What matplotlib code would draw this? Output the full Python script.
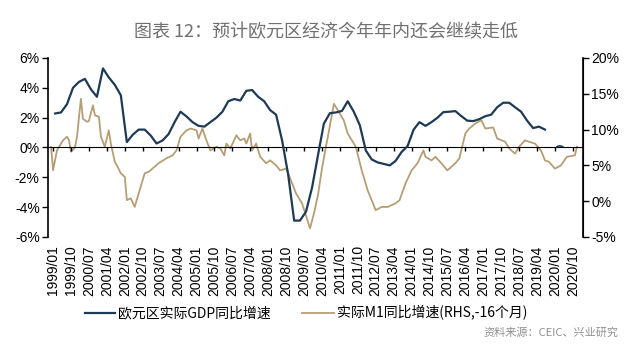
import pandas as pd
import matplotlib
matplotlib.use('Agg')
import matplotlib.pyplot as plt
import matplotlib.dates as mdates

plt.rcParams['font.family'] = ['Liberation Sans', 'Noto Sans CJK SC', 'DejaVu Sans']
plt.rcParams['axes.unicode_minus'] = True

# 欧元区实际GDP同比增速 (季度, %), 1999Q1 起
gdp = [2.28, 2.35, 2.9, 4.0, 4.4, 4.6, 3.9, 3.4, 5.3, 4.7, 4.2, 3.5,
       0.36, 0.85, 1.2, 1.2, 0.8, 0.27, 0.47, 0.9, 1.7, 2.4, 2.08, 1.7,
       1.45, 1.4, 1.7, 2.0, 2.4, 3.1, 3.25, 3.15, 3.8, 3.85, 3.4, 3.1,
       2.5, 2.2, 0.47, -1.8, -4.9, -4.9, -4.3, -2.7, -0.5, 1.6, 2.3, 2.35,
       2.45, 3.1, 2.4, 1.5, -0.2, -0.8, -1.0, -1.1, -1.2, -0.9, -0.3, 0.1,
       1.2, 1.7, 1.45, 1.7, 2.0, 2.37, 2.4, 2.44, 2.1, 1.8, 1.77, 1.9,
       2.1, 2.2, 2.7, 3.0, 3.0, 2.7, 2.4, 1.8, 1.3, 1.4, 1.2]
gdp_dates = pd.date_range('1999-02-01', periods=len(gdp), freq='3MS')

# 预测小段
gdp_f_dates = pd.to_datetime(['2020-02-01', '2020-03-15', '2020-05-01'])
gdp_f = [0.05, 0.12, 0.05]

# 实际M1同比增速 (RHS, -16个月, %)
m1_dates = ['1998-12', '1999-01', '1999-03', '1999-06', '1999-08', '1999-09', '1999-10',
            '1999-12', '2000-01', '2000-03', '2000-04', '2000-06', '2000-07', '2000-09',
            '2000-10', '2000-12', '2001-01', '2001-03', '2001-04', '2001-05', '2001-06',
            '2001-08', '2001-09', '2001-11', '2002-01', '2002-02', '2002-04', '2002-06',
            '2002-08', '2002-11', '2003-01', '2003-04', '2003-06', '2003-10', '2004-01',
            '2004-03', '2004-05', '2004-08', '2004-10', '2005-01', '2005-02', '2005-04',
            '2005-06', '2005-08', '2005-11', '2006-01', '2006-03', '2006-04', '2006-06',
            '2006-09', '2006-11', '2007-01', '2007-02', '2007-04', '2007-05', '2007-07',
            '2007-09', '2007-12', '2008-02', '2008-05', '2008-07', '2008-10', '2008-11',
            '2009-01', '2009-03', '2009-06', '2009-08', '2009-10', '2009-12', '2010-02',
            '2010-04', '2010-06', '2010-07', '2010-10', '2010-12', '2011-03', '2011-05',
            '2011-09', '2011-12', '2012-03', '2012-07', '2012-10', '2013-01', '2013-05',
            '2013-07', '2013-10', '2014-01', '2014-04', '2014-07', '2014-08', '2014-11',
            '2015-01', '2015-04', '2015-07', '2015-11', '2016-01', '2016-04', '2016-06',
            '2016-09', '2016-12', '2017-02', '2017-06', '2017-08', '2017-12', '2018-02',
            '2018-05', '2018-07', '2018-10', '2018-12', '2019-03', '2019-06', '2019-08',
            '2019-10', '2020-01', '2020-04', '2020-07', '2020-11', '2020-12']
m1 = [7.58, 4.33, 7.1, 8.5, 9.0, 8.5, 6.9,
      7.5, 9.0, 14.3, 11.5, 11.1, 11.2, 13.4,
      12.0, 11.8, 9.0, 7.6, 8.75, 9.9, 8.05,
      5.5, 5.0, 3.9, 3.4, 0.15, 0.4, -0.8,
      1.1, 3.9, 4.1, 4.8, 5.3, 6.0, 6.4,
      7.1, 9.0, 9.9, 10.15, 9.9, 8.75, 10.15,
      8.5, 7.1, 7.6, 7.35, 6.4, 8.05, 7.35,
      9.2, 8.5, 8.75, 8.05, 9.45, 7.1, 8.05,
      6.2, 5.3, 5.7, 5.0, 4.3, 4.55, 3.9,
      2.5, 1.1, -0.3, -2.0, -3.8, -1.7, 0.9,
      4.5, 7.6, 9.0, 13.6, 12.7, 11.3, 9.45,
      7.6, 4.3, 1.5, -1.25, -0.8, -0.8, -0.3,
      0.15, 2.5, 4.3, 5.3, 7.1, 6.2, 5.7,
      6.2, 5.3, 4.3, 5.3, 6.0, 9.45, 10.15,
      10.85, 11.3, 10.15, 10.3, 8.75, 8.3, 7.35,
      6.65, 7.6, 8.5, 8.3, 8.05, 7.1, 5.7,
      5.5, 4.55, 5.0, 6.2, 6.4, 7.6]
m1_dates = pd.to_datetime(m1_dates)

navy = '#1e3a55'
tan = '#b59e76'

fig = plt.figure(figsize=(6.4, 3.58), dpi=100)
ax = fig.add_axes([0.075, 0.338, 0.836, 0.500])
ax2 = ax.twinx()

ax.plot(gdp_dates, gdp, color=navy, lw=1.6, zorder=3)
ax.plot(gdp_f_dates, gdp_f, color=navy, lw=1.2, zorder=3)
ax2.plot(m1_dates, m1, color=tan, lw=1.3)
ax.set_zorder(ax2.get_zorder() + 1)
ax.patch.set_visible(False)

ax.set_ylim(-6, 6)
ax2.set_ylim(-5, 20)
ax.set_yticks(range(-6, 7, 2))
ax2.set_yticks(range(-5, 21, 5))
ax.set_yticklabels([f'{v}%' for v in range(-6, 7, 2)])
ax2.set_yticklabels([f'{v}%' for v in range(-5, 21, 5)])

xticks = pd.date_range('1999-01-01', '2020-10-01', freq='9MS')
ax.set_xlim(pd.Timestamp('1998-10-15'), pd.Timestamp('2021-03-05'))
ax.set_xticks(xticks)
ax.set_xticklabels([d.strftime('%Y/%m') for d in xticks], rotation=90)
ax.tick_params(axis='x', length=0, pad=6, labelsize=10)
ax.tick_params(axis='y', direction='out', length=4, width=1, labelsize=10, pad=2)
ax2.tick_params(axis='y', direction='out', length=4, width=1, labelsize=10, pad=2)

for a in (ax, ax2):
    a.spines['top'].set_visible(False)
    a.spines['bottom'].set_visible(False)
ax2.spines['left'].set_visible(False)
ax.spines['left'].set_linewidth(1.2)
ax2.spines['right'].set_linewidth(1.2)

# 零轴
sec = ax.secondary_xaxis(0.5)
sec.set_xticks(xticks)
sec.set_xticklabels([])
sec.tick_params(direction='in', length=3, width=1)
sec.spines['bottom'].set_linewidth(1.2)

fig.text(0.51, 0.91, '图表 12：预计欧元区经济今年年内还会继续走低', ha='center', va='center',
         fontsize=13, color='#707070', family=['Noto Sans CJK SC', 'DejaVu Sans'])

# 图例
fig.add_artist(plt.Line2D([85 / 640, 115 / 640], [1 - 313 / 358] * 2, color=navy, lw=1.6))
fig.text(118 / 640, 1 - 313 / 358, '欧元区实际GDP同比增速', va='center', fontsize=10,
         family=['Noto Sans CJK SC', 'DejaVu Sans'])
fig.add_artist(plt.Line2D([302 / 640, 334 / 640], [1 - 313 / 358] * 2, color=tan, lw=1.3))
fig.text(337 / 640, 1 - 313 / 358, '实际M1同比增速(RHS,-16个月)', va='center', fontsize=10,
         family=['Noto Sans CJK SC', 'DejaVu Sans'])
fig.text(618 / 640, 1 - 333 / 358, '资料来源：CEIC、兴业研究', ha='right', va='center',
         fontsize=8, color='#909090', family=['Noto Sans CJK SC', 'DejaVu Sans'])

fig.savefig('out.png', dpi=100)
